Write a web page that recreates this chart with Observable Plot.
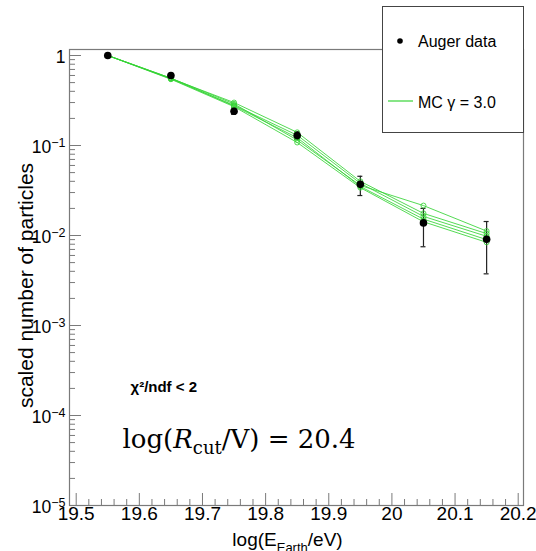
<!DOCTYPE html>
<html><head><meta charset="utf-8">
<script src="https://cdn.jsdelivr.net/npm/d3@7"></script>
<script src="https://cdn.jsdelivr.net/npm/@observablehq/plot@0.6"></script>
<style>
body{margin:0;background:#fff;}
#wrap{position:relative;width:536px;height:551px;overflow:hidden;background:#fff;font-family:"Liberation Sans",Arial,Helvetica,sans-serif;}
#wrap svg.plot{position:absolute;left:0;top:0;}
#legend{position:absolute;left:382px;top:6px;width:142px;height:127px;border:1px solid #444;background:#fff;box-sizing:border-box;}
#legend svg{position:absolute;left:0;top:0;}
</style></head><body><div id="wrap"></div>
<script>
// ---- data ----
const energy = [19.55, 19.65, 19.75, 19.85, 19.95, 20.05, 20.15];
const augerValue = [1.0, 0.60, 0.24, 0.129, 0.037, 0.0138, 0.0091];
const augerLow   = [1.0, 0.58, 0.222, 0.117, 0.0278, 0.0075, 0.00375];
const augerHigh  = [1.0, 0.62, 0.262, 0.142, 0.0455, 0.0200, 0.0143];
const augerCaps  = [false, false, true, true, true, true, true];
const mc1 = [1.0, 0.56, 0.290, 0.115, 0.0360, 0.0215, 0.0112];
const mc2 = [1.0, 0.555, 0.300, 0.140, 0.0400, 0.0176, 0.0105];
const mc3 = [1.0, 0.550, 0.280, 0.130, 0.0380, 0.0163, 0.0098];
const mc4 = [1.0, 0.560, 0.275, 0.122, 0.0350, 0.0152, 0.0090];
const mc5 = [1.0, 0.545, 0.270, 0.108, 0.0340, 0.0142, 0.0084];
const mcSeries = [mc1, mc2, mc3, mc4, mc5];
const xTickValues = [19.5, 19.6, 19.7, 19.8, 19.9, 20.0, 20.1, 20.2];
const xTickLabels = ["19.5", "19.6", "19.7", "19.8", "19.9", "20", "20.1", "20.2"];
const yTickValues = [1, 1e-1, 1e-2, 1e-3, 1e-4, 1e-5];
const yTickLabels = ["1", "10^−1", "10^−2", "10^−3", "10^−4", "10^−5"];
const xTitle = "log(E_Earth/eV)";
const yTitle = "scaled number of particles";
const chiText = "χ²/ndf < 2";
const cutText = "log(R_cut/V) = 20.4";
const legendLabels = ["Auger data", "MC γ = 3.0"];

// ---- derived tables ----
const auger = energy.map((x, i) => ({x, y: augerValue[i], lo: augerLow[i], hi: augerHigh[i], cap: augerCaps[i]}));
const mcRows = mcSeries.flatMap((s, k) => s.map((y, i) => ({x: energy[i], y, s: k})));
const xMinor = d3.range(0, 36).map(i => +(19.5 + i * 0.02).toFixed(2)).filter(v => !xTickValues.some(t => Math.abs(t - v) < 1e-6));
const yMinor = d3.range(-5, 0).flatMap(e => d3.range(2, 10).map(k => k * Math.pow(10, e)));

const W = 536, H = 551, mL = 69, mR = 13, mT = 49, mB = 46;
const pW = W - mL - mR, pH = H - mT - mB;
const GREEN = "#36d336";
const AX = "#7a7a7a";

const plot = Plot.plot({
  width: W, height: H,
  marginLeft: mL, marginRight: mR, marginTop: mT, marginBottom: mB,
  style: {fontFamily: "Liberation Sans, Arial, Helvetica, sans-serif", background: "transparent", overflow: "visible"},
  x: {type: "linear", domain: [19.4894, 20.2084], axis: null},
  y: {type: "log", domain: [1e-5, 1.166], axis: null},
  marks: [
    Plot.tickY(yTickValues, {y: d => d, insetRight: pW - 12, stroke: AX, strokeWidth: 1}),
    Plot.tickY(yMinor, {y: d => d, insetRight: pW - 6, stroke: AX, strokeWidth: 1}),
    Plot.tickX(xTickValues, {x: d => d, insetTop: pH - 12, stroke: AX, strokeWidth: 1}),
    Plot.tickX(xMinor, {x: d => d, insetTop: pH - 6, stroke: AX, strokeWidth: 1}),
    Plot.frame({stroke: AX, strokeWidth: 1.2}),
    // tick labels
    Plot.text(xTickValues, {x: d => d, y: 1e-5, text: (d, i) => xTickLabels[i], lineAnchor: "top", dy: 1, fontSize: 19, fill: "#000"}),
    Plot.text(yTickValues, {x: 19.4894, y: d => d, text: (d, i) => yTickLabels[i], textAnchor: "end", dx: -4, dy: 2, fontSize: 17.5, fill: "#000"}),
    // axis titles
    Plot.text([yTitle], {frameAnchor: "left", text: d => d, rotate: -90, dx: -37, dy: 8, textAnchor: "middle", lineAnchor: "bottom", fontSize: 21, fill: "#000"}),
    Plot.text([xTitle], {frameAnchor: "bottom", text: d => d, dx: -9, dy: 40, textAnchor: "middle", lineAnchor: "bottom", fontSize: 19, fill: "#000"}),
    // Auger error bars
    Plot.ruleX(auger.filter(d => d.hi > d.lo), {x: "x", y1: "lo", y2: "hi", stroke: "#222", strokeWidth: 1.2}),
    Plot.ruleY(auger.filter(d => d.cap), {y: "lo", x1: "x", x2: "x", insetLeft: -2.5, insetRight: -2.5, stroke: "#222", strokeWidth: 1.2}),
    Plot.ruleY(auger.filter(d => d.cap), {y: "hi", x1: "x", x2: "x", insetLeft: -2.5, insetRight: -2.5, stroke: "#222", strokeWidth: 1.2}),
    // MC lines
    Plot.line(mcRows, {x: "x", y: "y", z: "s", stroke: GREEN, strokeWidth: 1, strokeOpacity: 0.85}),
    Plot.dot(mcRows, {x: "x", y: "y", r: 2.5, stroke: GREEN, strokeWidth: 1, fill: "none", strokeOpacity: 0.85}),
    // Auger points
    Plot.dot(auger, {x: "x", y: "y", r: 3.8, fill: "#000", stroke: "none"}),
    // annotations
    Plot.text([chiText], {frameAnchor: "top-left", text: d => d, dx: 61, dy: 342, textAnchor: "start", lineAnchor: "bottom", fontSize: 15, fontWeight: "bold", fill: "#000"}),
    Plot.text([cutText], {frameAnchor: "top-left", text: d => d, dx: 53, dy: 398, textAnchor: "start", lineAnchor: "bottom", fontSize: 26, fontFamily: "DejaVu Serif, Liberation Serif, serif", fill: "#000"})
  ]
});
plot.classList.add("plot");

// rich-text post-processing: superscripts and subscripts
d3.select(plot).selectAll("text").each(function () {
  const t = this.textContent;
  const s = d3.select(this);
  if (t.includes("^")) {
    const [b, e] = t.split("^");
    this.textContent = "";
    s.append("tspan").text(b);
    s.append("tspan").attr("font-size", 12.5).attr("dy", "-0.5em").text(e);
  } else if (t === xTitle) {
    const m = t.match(/^(.*)_(\w+)(.*)$/);
    this.textContent = "";
    s.append("tspan").text(m[1]);
    s.append("tspan").attr("font-size", 13).attr("dy", 6).text(m[2]);
    s.append("tspan").attr("dy", -6).text(m[3]);
  } else if (t === cutText) {
    const m = t.match(/^(.*\()(\w)_(\w+)(.*)$/);
    this.textContent = "";
    s.append("tspan").text(m[1]);
    s.append("tspan").attr("font-style", "italic").text(m[2]);
    s.append("tspan").attr("font-size", 18).attr("dy", 6).text(m[3]);
    s.append("tspan").attr("dy", -6).text(m[4]);
  }
});

const wrap = document.getElementById("wrap");
wrap.appendChild(plot);

// legend
const leg = document.createElement("div");
leg.id = "legend";
wrap.appendChild(leg);
const ls = d3.select(leg).append("svg").attr("width", 142).attr("height", 127)
  .style("font-family", "Liberation Sans, Arial, Helvetica, sans-serif");
ls.append("circle").attr("cx", 17).attr("cy", 34).attr("r", 2.8).attr("fill", "#000");
ls.append("text").attr("x", 35).attr("y", 39.5).attr("font-size", 16).text(legendLabels[0]);
ls.append("line").attr("x1", 5).attr("x2", 30).attr("y1", 94).attr("y2", 94).attr("stroke", GREEN).attr("stroke-width", 1.2);
ls.append("text").attr("x", 35).attr("y", 101).attr("font-size", 16).text(legendLabels[1]);
</script>
</body></html>
